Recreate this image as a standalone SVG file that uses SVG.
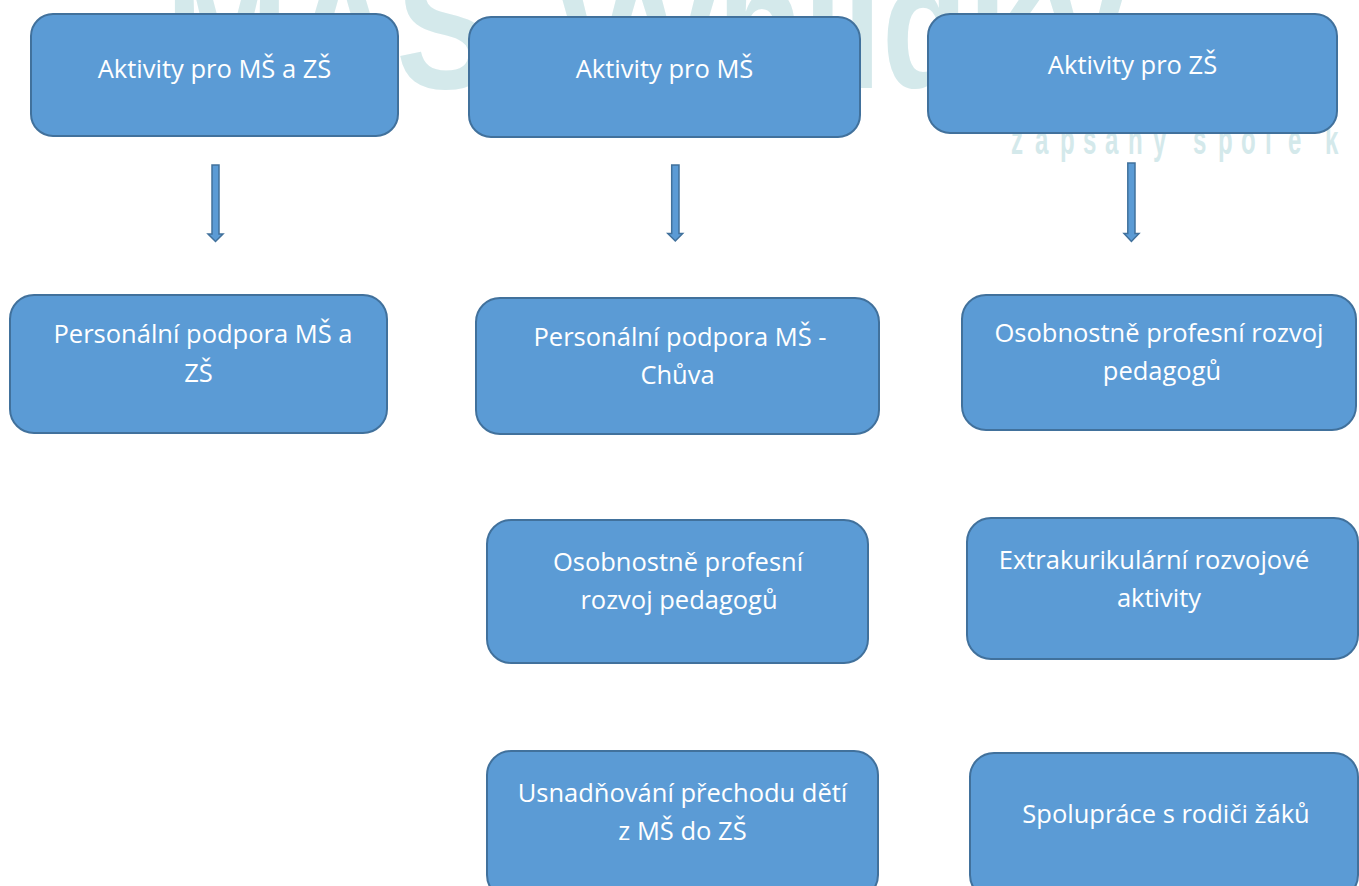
<svg xmlns="http://www.w3.org/2000/svg" width="1359" height="886" viewBox="0 0 1359 886">
<style>
.wm{fill:#d4e9eb;font-family:"Liberation Sans",Arial,sans-serif;font-weight:bold}
.box{fill:#5b9bd5;stroke:#41719c;stroke-width:2}
.lbl{fill:#ffffff;font-family:"Open Sans","Noto Sans",sans-serif;font-size:25.5px;text-anchor:middle}
.arr{fill:#5b9bd5;stroke:#41719c;stroke-width:1.5;stroke-linejoin:miter}
</style>
<rect x="0" y="0" width="1359" height="886" fill="#ffffff"/>
<g id="watermark">
<text class="wm" x="165" y="88" font-size="180" textLength="330" lengthAdjust="spacingAndGlyphs">MAS</text>
<text class="wm" x="560" y="88" font-size="180" textLength="565" lengthAdjust="spacingAndGlyphs">vyhlídky</text>
<text class="wm" transform="translate(1011,154) scale(0.6,1)" y="0" font-size="40" x="0 40 81.7 120 156.7 195 236.7 278 303.3 345 383.3 423.3 461.7 523.3">zapsaný spolek</text>
</g>
<g id="connectors">
<path class="arr" d="M212,165 H219 V234 H223 L215.5,241.5 L208,234 H212 Z"/>
<path class="arr" d="M671.7,165 H679 V233.5 H682.7 L675.3,241 L667.8,233.5 H671.7 Z"/>
<path class="arr" d="M1127.8,163 H1135 V233.5 H1139 L1131.4,241.5 L1124,233.5 H1127.8 Z"/>
</g>
<g id="n1"><rect class="box" x="31" y="14" width="367" height="122" rx="22"/><text class="lbl" x="214.5" y="78">Aktivity pro MŠ a ZŠ</text></g>
<g id="n2"><rect class="box" x="469" y="17" width="391" height="120" rx="22"/><text class="lbl" x="664.5" y="78">Aktivity pro MŠ</text></g>
<g id="n3"><rect class="box" x="928" y="14" width="409" height="119" rx="22"/><text class="lbl" x="1132.5" y="74">Aktivity pro ZŠ</text></g>
<g id="n4"><rect class="box" x="10" y="295" width="377" height="138" rx="24"/><text class="lbl" x="203" y="343" font-size="26">Personální podpora MŠ a</text><text class="lbl" x="198.5" y="382" font-size="26">ZŠ</text></g>
<g id="n5"><rect class="box" x="476" y="298" width="403" height="136" rx="24"/><text class="lbl" x="680" y="346">Personální podpora MŠ -</text><text class="lbl" x="677.5" y="384">Chůva</text></g>
<g id="n6"><rect class="box" x="962" y="295" width="394" height="135" rx="24"/><text class="lbl" x="1159" y="342">Osobnostně profesní rozvoj</text><text class="lbl" x="1162" y="380">pedagogů</text></g>
<g id="n7"><rect class="box" x="487" y="520" width="381" height="143" rx="24"/><text class="lbl" x="678" y="571">Osobnostně profesní</text><text class="lbl" x="679" y="609">rozvoj pedagogů</text></g>
<g id="n8"><rect class="box" x="967" y="518" width="391" height="141" rx="24"/><text class="lbl" x="1154" y="569">Extrakurikulární rozvojové</text><text class="lbl" x="1159" y="607">aktivity</text></g>
<g id="n9"><rect class="box" x="487" y="751" width="391" height="148" rx="24"/><text class="lbl" x="682.5" y="802">Usnadňování přechodu dětí</text><text class="lbl" x="682.5" y="840">z MŠ do ZŠ</text></g>
<g id="n10"><rect class="box" x="970" y="753" width="388" height="146" rx="24"/><text class="lbl" x="1166" y="823">Spolupráce s rodiči žáků</text></g>
</svg>
